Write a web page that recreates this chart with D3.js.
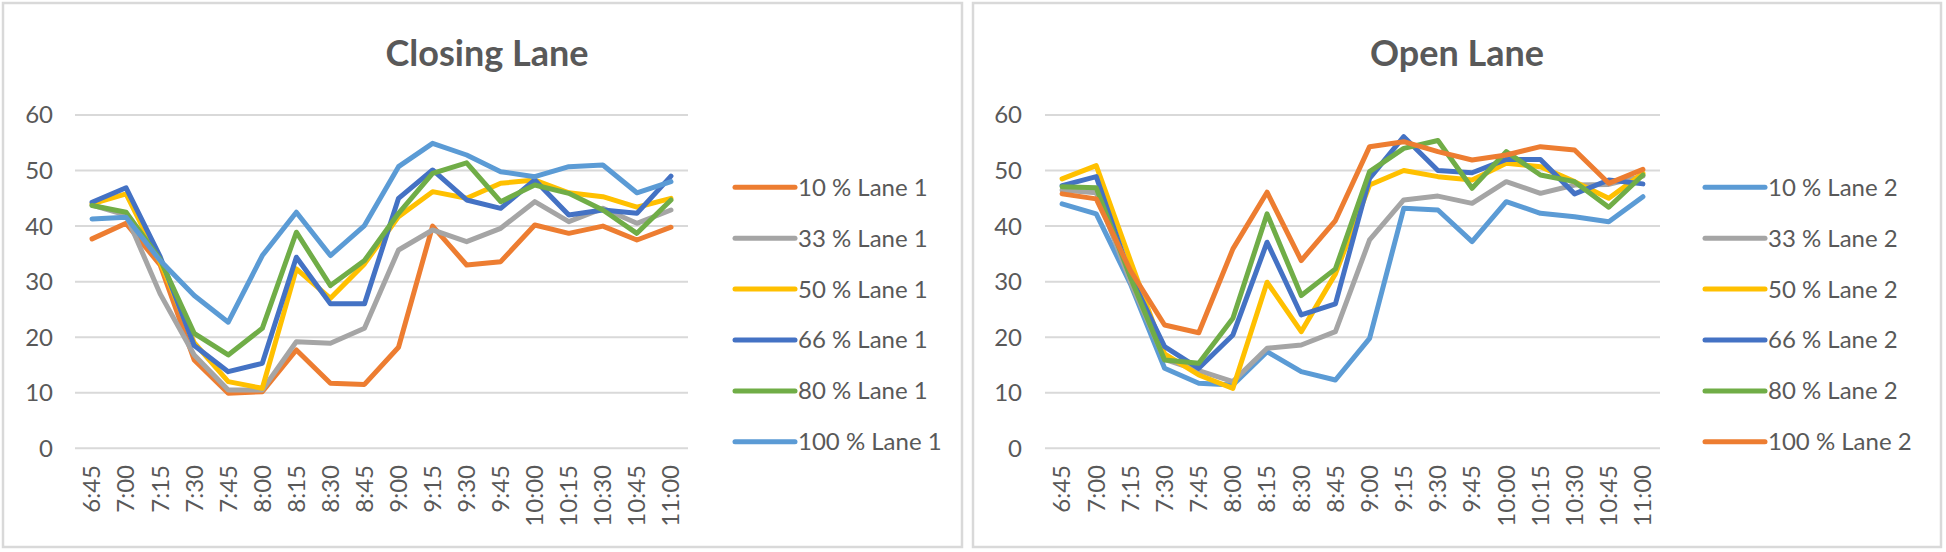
<!DOCTYPE html>
<html><head><meta charset="utf-8">
<script src="https://cdn.jsdelivr.net/npm/d3@7"></script>
<style>
html,body{margin:0;padding:0;background:#fff;}
svg{display:block;font-family:Lato,"Open Sans",sans-serif;}
</style></head>
<body><svg id="chart" width="1946" height="552"></svg>
<script>
const times = ["6:45","7:00","7:15","7:30","7:45","8:00","8:15","8:30","8:45","9:00","9:15","9:30","9:45","10:00","10:15","10:30","10:45","11:00"];
const yTicks = [0,10,20,30,40,50,60];
const titles = ["Closing Lane","Open Lane"];

const closingNames = ["10 % Lane 1","33 % Lane 1","50 % Lane 1","66 % Lane 1","80 % Lane 1","100 % Lane 1"];
const closingColors = ["#ED7D31","#A5A5A5","#FFC000","#4472C4","#70AD47","#5B9BD5"];
const closing10  = [37.7,40.5,33.0,15.9,9.9,10.2,17.7,11.7,11.5,18.2,40.0,33.0,33.6,40.2,38.7,40.0,37.5,39.8];
const closing33  = [43.8,42.0,27.8,16.8,10.5,10.5,19.2,18.9,21.6,35.7,39.3,37.2,39.6,44.4,40.8,43.2,40.5,42.9];
const closing50  = [44.0,45.8,33.5,19.0,12.0,10.8,32.3,27.0,33.2,41.7,46.2,45.0,47.7,48.3,46.0,45.3,43.4,45.0];
const closing66  = [44.3,46.9,34.5,18.5,13.8,15.3,34.4,26.0,26.0,45.0,50.1,44.7,43.2,48.3,42.0,42.9,42.3,49.0];
const closing80  = [43.7,42.5,34.0,20.7,16.8,21.6,38.9,29.3,33.8,42.3,49.5,51.4,44.4,47.4,45.9,42.9,38.7,44.7];
const closing100 = [41.3,41.6,33.8,27.5,22.7,34.7,42.5,34.7,40.1,50.7,54.9,52.8,49.8,48.9,50.7,51.0,46.0,48.0];

const openNames = ["10 % Lane 2","33 % Lane 2","50 % Lane 2","66 % Lane 2","80 % Lane 2","100 % Lane 2"];
const openColors = ["#5B9BD5","#A5A5A5","#FFC000","#4472C4","#70AD47","#ED7D31"];
const open10  = [44.0,42.2,29.6,14.4,11.7,11.4,17.4,13.8,12.3,19.8,43.2,42.9,37.2,44.4,42.3,41.7,40.8,45.3];
const open33  = [46.5,46.0,30.0,16.0,14.0,12.0,18.0,18.6,21.0,37.5,44.7,45.4,44.1,48.0,45.9,47.4,47.5,49.0];
const open50  = [48.5,50.9,33.8,17.0,13.2,10.8,29.9,21.0,31.4,47.4,50.0,48.9,48.3,51.3,50.7,48.0,45.0,49.5];
const open66  = [47.3,48.9,31.0,18.3,14.4,20.4,37.1,24.0,26.0,48.6,56.1,50.0,49.6,52.0,52.0,45.8,48.3,47.6];
const open80  = [47.1,46.9,30.8,15.9,15.3,23.4,42.2,27.5,32.3,49.8,54.0,55.4,46.8,53.4,49.2,48.0,43.4,49.2];
const open100 = [45.8,44.9,32.0,22.2,20.8,35.9,46.1,33.8,41.0,54.3,55.2,53.4,51.9,52.8,54.3,53.7,47.7,50.2];

const panels = [
  {title: titles[0], names: closingNames, colors: closingColors,
   series: [closing10,closing33,closing50,closing66,closing80,closing100],
   box:[3,3,959,544], plot:[75,688], titleX:487, labelX:53, legLine:[735,795], legText:798},
  {title: titles[1], names: openNames, colors: openColors,
   series: [open10,open33,open50,open66,open80,open100],
   box:[973,3,968,544], plot:[1045,1660], titleX:1457, labelX:1022, legLine:[1705,1765], legText:1768}
];

const svg = d3.select("#chart");
const textColor = "#595959";
const gridColor = "#D9D9D9";
const y = d3.scaleLinear().domain([0,60]).range([448.3,115]);

panels.forEach(p => {
  const g = svg.append("g");
  g.append("rect").attr("x",p.box[0]).attr("y",p.box[1]).attr("width",p.box[2]).attr("height",p.box[3])
    .attr("fill","#fff").attr("stroke",gridColor).attr("stroke-width",2.5);

  g.append("text").attr("x",p.titleX).attr("y",66).attr("text-anchor","middle")
    .attr("font-size",36).attr("font-weight","bold").attr("fill",textColor).text(p.title);

  const x = d3.scaleBand().domain(times).range(p.plot);

  // gridlines
  g.selectAll(".grid").data(yTicks).join("line")
    .attr("x1",p.plot[0]).attr("x2",p.plot[1])
    .attr("y1",d=>y(d)).attr("y2",d=>y(d))
    .attr("stroke",gridColor).attr("stroke-width",2);

  // y labels
  g.selectAll(".ylab").data(yTicks).join("text")
    .attr("x",p.labelX).attr("y",d=>y(d)).attr("dy","0.35em")
    .attr("text-anchor","end").attr("font-size",24).attr("fill",textColor).text(d=>d);

  // x labels
  g.selectAll(".xlab").data(times).join("text")
    .attr("transform",d=>`translate(${x(d)+x.bandwidth()/2},465) rotate(-90)`)
    .attr("dy","0.35em").attr("text-anchor","end").attr("font-size",24).attr("fill",textColor).text(d=>d);

  const line = d3.line().x((d,i)=>x(times[i])+x.bandwidth()/2).y(d=>y(d));
  p.series.forEach((s,k) => {
    g.append("path").attr("d",line(s)).attr("fill","none").attr("stroke",p.colors[k])
      .attr("stroke-width",5).attr("stroke-linejoin","round").attr("stroke-linecap","round");
  });

  // legend
  p.names.forEach((n,k) => {
    const ly = 187.3 + 50.9*k;
    g.append("line").attr("x1",p.legLine[0]).attr("x2",p.legLine[1]).attr("y1",ly).attr("y2",ly)
      .attr("stroke",p.colors[k]).attr("stroke-width",5).attr("stroke-linecap","round");
    g.append("text").attr("x",p.legText).attr("y",ly).attr("dy","0.35em")
      .attr("font-size",24).attr("fill",textColor).text(n);
  });
});
</script></body></html>
